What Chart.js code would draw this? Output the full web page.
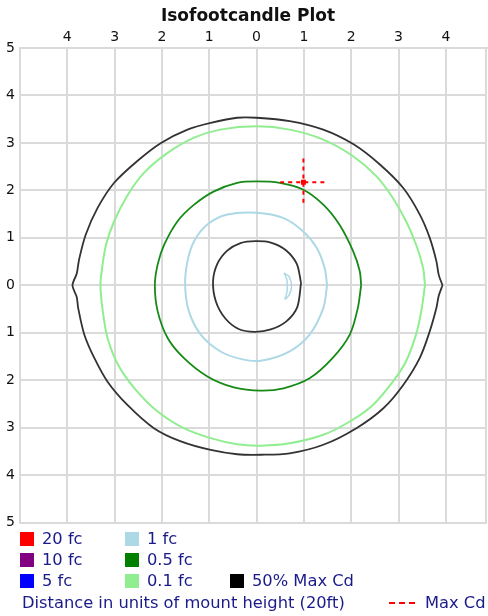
<!DOCTYPE html>
<html>
<head>
<meta charset="utf-8">
<script src="https://cdn.jsdelivr.net/npm/chart.js@4/dist/chart.umd.min.js"></script>
<style>
  html, body { margin: 0; background: #fff; font-family: "DejaVu Sans", sans-serif; overflow: hidden; }
  #wrap { position: absolute; left: 0; top: 0; width: 496px; height: 536px; }
  .leg { position: absolute; height: 20px; line-height: 20px; font-size: 16.3px; color: #1a1a8a; white-space: nowrap; display: flex; align-items: center; }
  .sw { display: inline-block; width: 14px; height: 14px; margin-right: 8px; }
</style>
</head>
<body>
<div id="wrap"><canvas id="isoChart"></canvas></div>

<div class="leg" style="left:20px;top:529px"><span class="sw" style="background:#ff0000"></span>20 fc</div>
<div class="leg" style="left:20px;top:550px"><span class="sw" style="background:#800080"></span>10 fc</div>
<div class="leg" style="left:20px;top:571px"><span class="sw" style="background:#0000ff"></span>5 fc</div>
<div class="leg" style="left:125px;top:529px"><span class="sw" style="background:#add8e6"></span>1 fc</div>
<div class="leg" style="left:125px;top:550px"><span class="sw" style="background:#008000"></span>0.5 fc</div>
<div class="leg" style="left:125px;top:571px"><span class="sw" style="background:#90ee90"></span>0.1 fc</div>
<div class="leg" style="left:230px;top:571px"><span class="sw" style="background:#000000"></span>50% Max Cd</div>
<div class="leg" style="left:22px;top:593px">Distance in units of mount height (20ft)</div>
<div class="leg" style="left:389px;top:593px"><svg width="27" height="4" style="margin-right:9px"><line x1="0" y1="2" x2="27" y2="2" stroke="#ff0000" stroke-width="2" stroke-dasharray="6,4"/></svg>Max Cd</div>

<script>
// contour points, in units of mount height
var maxCd50Outer = [
    [3.93, 0], [3.85, 0.22], [3.80, 0.51], [3.66, 1.0], [3.45, 1.49], [3.10, 2.05], [2.60, 2.55],
    [2.05, 2.97], [1.41, 3.28], [0.70, 3.46], [0.0, 3.53], [-0.41, 3.53], [-0.97, 3.42],
    [-1.46, 3.28], [-2.02, 3.0], [-2.52, 2.62], [-3.01, 2.16], [-3.36, 1.63], [-3.61, 1.07],
    [-3.75, 0.55], [-3.80, 0.25], [-3.89, 0], [-3.80, -0.25], [-3.77, -0.48], [-3.64, -1.04],
    [-3.43, -1.53], [-3.15, -2.03], [-2.73, -2.52], [-2.17, -3.01], [-1.60, -3.29], [-0.97, -3.47],
    [-0.41, -3.56], [0.09, -3.57], [0.70, -3.54], [1.41, -3.36], [2.11, -3.01], [2.68, -2.59],
    [3.10, -2.10], [3.45, -1.53], [3.66, -0.97], [3.80, -0.48], [3.85, -0.22], [3.93, 0]
];
var maxCd50Inner = [
    [0.94, 0.05], [0.85, 0.45], [0.62, 0.74], [0.30, 0.90], [-0.02, 0.93], [-0.34, 0.89],
    [-0.62, 0.73], [-0.83, 0.45], [-0.92, 0.08], [-0.86, -0.34], [-0.66, -0.70], [-0.38, -0.92],
    [-0.04, -0.98], [0.30, -0.93], [0.63, -0.76], [0.86, -0.46], [0.94, 0.05]
];
var fc01 = [
    [3.56, 0], [3.52, 0.36], [3.37, 0.86], [3.16, 1.35], [2.88, 1.84], [2.53, 2.30], [2.04, 2.72],
    [1.41, 3.07], [0.70, 3.28], [0.0, 3.35], [-0.77, 3.28], [-1.32, 3.11], [-1.88, 2.79],
    [-2.38, 2.37], [-2.72, 1.91], [-3.01, 1.35], [-3.18, 0.86], [-3.26, 0.40], [-3.30, 0],
    [-3.25, -0.55], [-3.15, -1.11], [-2.93, -1.67], [-2.58, -2.17], [-2.09, -2.66], [-1.54, -3.01],
    [-0.97, -3.22], [-0.41, -3.35], [0.09, -3.38], [0.70, -3.33], [1.41, -3.15], [1.97, -2.87],
    [2.46, -2.52], [2.88, -2.03], [3.16, -1.60], [3.37, -1.04], [3.48, -0.55], [3.56, 0]
];
var fc05 = [
    [2.21, 0], [2.18, 0.3], [2.04, 0.72], [1.75, 1.28], [1.41, 1.70], [0.98, 2.02], [0.49, 2.16],
    [0.0, 2.19], [-0.41, 2.16], [-0.90, 1.98], [-1.32, 1.70], [-1.67, 1.35], [-1.95, 0.86],
    [-2.09, 0.44], [-2.15, 0], [-2.09, -0.55], [-1.88, -1.11], [-1.54, -1.53], [-1.04, -1.92],
    [-0.48, -2.15], [0.09, -2.22], [0.57, -2.17], [1.12, -1.96], [1.61, -1.53], [1.97, -1.04],
    [2.14, -0.48], [2.21, 0]
];
var fc1 = [
    [1.49, 0], [1.44, 0.36], [1.27, 0.79], [0.98, 1.14], [0.56, 1.42], [0.0, 1.53], [-0.62, 1.49],
    [-1.04, 1.28], [-1.32, 0.93], [-1.46, 0.51], [-1.51, 0], [-1.43, -0.55], [-1.18, -1.04],
    [-0.77, -1.39], [-0.34, -1.55], [0.09, -1.59], [0.70, -1.39], [1.12, -1.04], [1.41, -0.48],
    [1.49, 0]
];
var fc1Small = [
    [0.58, 0.26], [0.69, 0.18], [0.74, -0.02], [0.69, -0.20], [0.60, -0.29],
    [0.64, -0.16], [0.65, -0.02], [0.64, 0.12], [0.58, 0.26]
];
var maxCdPoint = [[0.99, 2.17]];
var maxCdHoriz = [[0.50, 2.17], [1.49, 2.17]];
var maxCdVert = [[0.99, 2.67], [0.99, 1.70]];

var xTicks = [-5, -4, -3, -2, -1, 0, 1, 2, 3, 4];
var yTicks = [-5, -4, -3, -2, -1, 0, 1, 2, 3, 4, 5];

function pts(arr) {
    return arr.map(function (p) { return { x: p[0], y: p[1] }; });
}

function line(arr, color, width, dash) {
    return {
        data: pts(arr),
        showLine: true,
        borderColor: color,
        borderWidth: width,
        borderDash: dash || [],
        pointRadius: 0,
        tension: 0.3,
        fill: false
    };
}

var gridColor = '#dadada';
var tickFont = { family: 'DejaVu Sans', size: 14 };

// right edge of the plot frame, and title nudged over the plot centre
var frameAndTitle = {
    id: 'frameAndTitle',
    afterLayout: function (chart) {
        if (chart.titleBlock) {
            chart.titleBlock.left += 4.5;
            chart.titleBlock.right += 4.5;
        }
    },
    beforeDatasetsDraw: function (chart) {
        var a = chart.chartArea, c = chart.ctx;
        c.save();
        c.strokeStyle = gridColor;
        c.lineWidth = 2;
        c.beginPath();
        c.moveTo(a.right - 1, a.top);
        c.lineTo(a.right - 1, a.bottom);
        c.stroke();
        c.restore();
    }
};

var ctx = document.getElementById('isoChart').getContext('2d');
new Chart(ctx, {
    type: 'scatter',
    data: {
        datasets: [
            {
                data: pts(maxCdPoint),
                pointStyle: 'rect',
                pointRadius: 3.5,
                backgroundColor: '#ff0000',
                borderColor: '#ff0000',
                borderWidth: 0
            },
            line(maxCdHoriz, '#ff0000', 2, [4, 4]),
            line(maxCdVert, '#ff0000', 2, [4, 4]),
            line(fc1Small, '#add8e6', 1.5),
            line(maxCd50Inner, '#333333', 1.8),
            line(fc1, '#add8e6', 2),
            line(fc05, '#168a16', 1.8),
            line(fc01, '#90ee90', 2),
            line(maxCd50Outer, '#333333', 1.8)
        ]
    },
    plugins: [frameAndTitle],
    options: {
        responsive: true,
        maintainAspectRatio: false,
        animation: false,
        layout: { padding: { right: 9, bottom: 9 } },
        plugins: {
            legend: { display: false },
            tooltip: { enabled: false },
            title: {
                display: true,
                text: 'Isofootcandle Plot',
                color: '#111',
                font: { family: 'DejaVu Sans', size: 17, weight: 'bold' },
                padding: { top: 6, bottom: 0 }
            }
        },
        scales: {
            x: {
                type: 'linear',
                position: 'top',
                min: -5,
                max: 4.87,
                afterBuildTicks: function (s) { s.ticks = xTicks.map(function (v) { return { value: v }; }); },
                afterFit: function (s) { s.height = 21.6; },
                ticks: {
                    color: '#111',
                    font: tickFont,
                    padding: 2,
                    maxRotation: 0,
                    callback: function (v) { return Math.abs(v) >= 5 ? '' : Math.abs(v); }
                },
                grid: { color: gridColor, lineWidth: 2, drawTicks: false },
                border: { color: gridColor, width: 2 }
            },
            y: {
                type: 'linear',
                min: -5,
                max: 5,
                afterBuildTicks: function (s) { s.ticks = yTicks.map(function (v) { return { value: v }; }); },
                afterFit: function (s) { s.width = 20; },
                ticks: {
                    color: '#111',
                    font: tickFont,
                    padding: 5,
                    callback: function (v) { return Math.abs(v); }
                },
                grid: { color: gridColor, lineWidth: 2, drawTicks: false },
                border: { color: gridColor, width: 2 }
            }
        }
    }
});
</script>
</body>
</html>
